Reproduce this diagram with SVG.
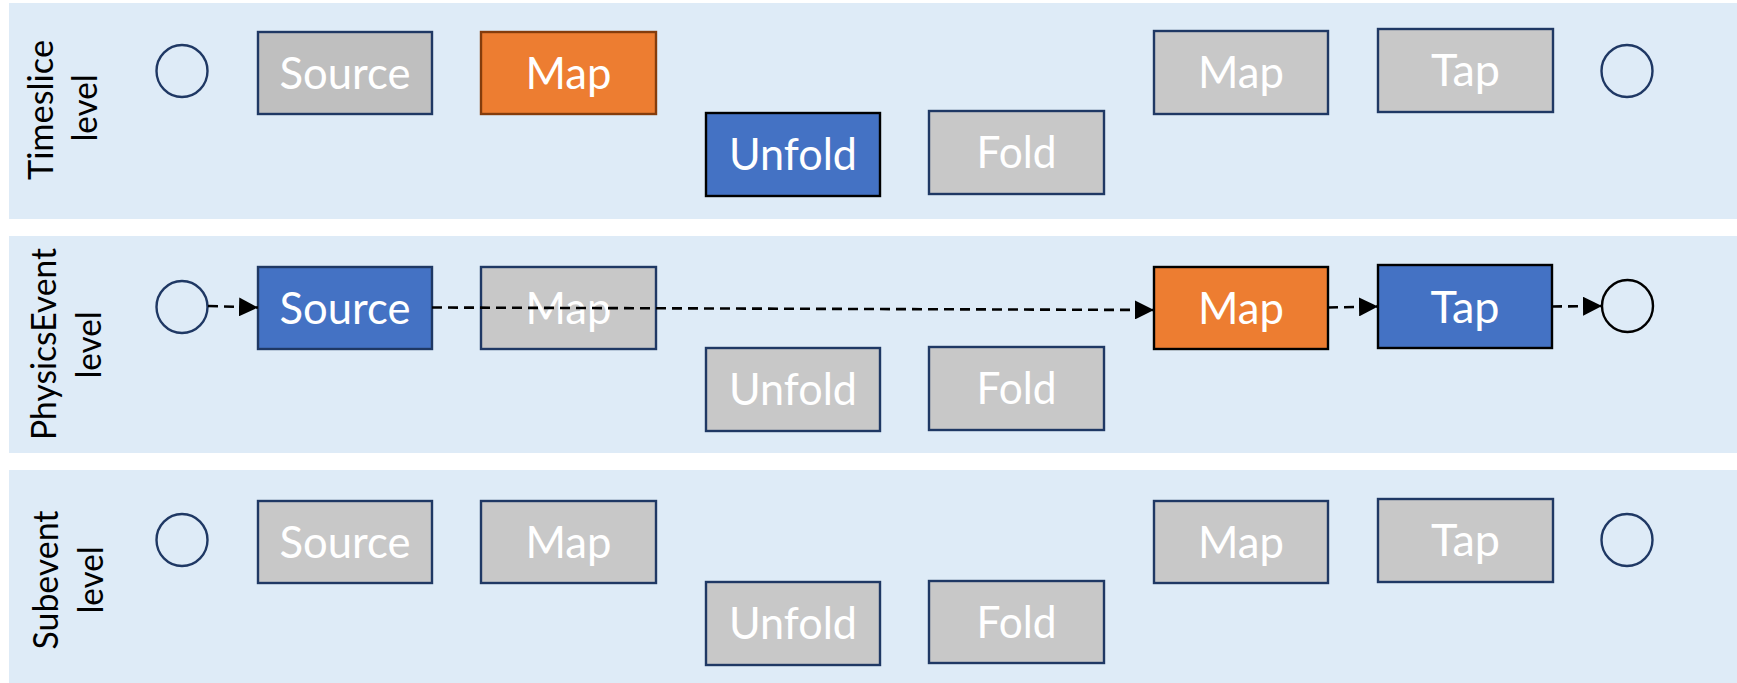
<svg xmlns="http://www.w3.org/2000/svg" width="1737" height="683" viewBox="0 0 1737 683">
  <defs>
    <marker id="arrow" viewBox="0 0 10 10" refX="10" refY="5" markerWidth="19" markerHeight="19" markerUnits="userSpaceOnUse" orient="auto">
      <path d="M0,0 L10,5 L0,10 z" fill="#000"/>
    </marker>
    <style>
      .lane { fill: #DEEBF7; }
      .box { stroke: #1F3864; stroke-width: 2.4; }
      .grey { fill: #C8C8C8; }
      .grey-dark { fill: #BFBFBF; }
      .orange { fill: #ED7D31; }
      .blue { fill: #4472C4; }
      .hl { stroke: #000; }
      .brown { stroke: #843C0C; }
      .port { fill: none; stroke: #1F3864; stroke-width: 2.4; }
      .port-hl { stroke: #000; }
      .lbl { font-family: Lato, "Open Sans", sans-serif; font-size: 44px; fill: #fff; text-anchor: middle; }
      .lane-lbl { font-family: Lato, "Open Sans", sans-serif; font-size: 34px; fill: #000; text-anchor: middle; }
      .flow { fill: none; stroke: #000; stroke-width: 2.6; stroke-dasharray: 10 6; marker-end: url(#arrow); }
    </style>
  </defs>

  <!-- lanes -->
  <g id="lanes">
    <rect class="lane" x="9" y="3" width="1728" height="216"/>
    <rect class="lane" x="9" y="236" width="1728" height="217"/>
    <rect class="lane" x="9" y="470" width="1728" height="213"/>
  </g>

  <!-- lane titles -->
  <g id="lane-titles">
    <text class="lane-lbl" transform="translate(53,110) rotate(-90)" textLength="140" lengthAdjust="spacingAndGlyphs">Timeslice</text>
    <text class="lane-lbl" transform="translate(97,108) rotate(-90)" textLength="67" lengthAdjust="spacingAndGlyphs">level</text>
    <text class="lane-lbl" transform="translate(56,344) rotate(-90)" textLength="192" lengthAdjust="spacingAndGlyphs">PhysicsEvent</text>
    <text class="lane-lbl" transform="translate(101,345) rotate(-90)" textLength="67" lengthAdjust="spacingAndGlyphs">level</text>
    <text class="lane-lbl" transform="translate(58,580) rotate(-90)" textLength="139" lengthAdjust="spacingAndGlyphs">Subevent</text>
    <text class="lane-lbl" transform="translate(103,580) rotate(-90)" textLength="67" lengthAdjust="spacingAndGlyphs">level</text>
  </g>

  <!-- Timeslice level -->
  <g id="ts-in"><ellipse class="port" cx="182" cy="71" rx="25.5" ry="26"/></g>
  <g id="ts-source"><rect class="box grey-dark" x="258" y="32" width="174" height="82"/><text class="lbl" x="345" y="89" textLength="131" lengthAdjust="spacingAndGlyphs">Source</text></g>
  <g id="ts-map1"><rect class="box orange brown" x="481" y="32" width="175" height="82"/><text class="lbl" x="568.5" y="89" textLength="86" lengthAdjust="spacingAndGlyphs">Map</text></g>
  <g id="ts-unfold"><rect class="box blue hl" x="706" y="113" width="174" height="83"/><text class="lbl" x="793" y="170" textLength="128" lengthAdjust="spacingAndGlyphs">Unfold</text></g>
  <g id="ts-fold"><rect class="box grey" x="929" y="111" width="175" height="83"/><text class="lbl" x="1016.5" y="168" textLength="80" lengthAdjust="spacingAndGlyphs">Fold</text></g>
  <g id="ts-map2"><rect class="box grey" x="1154" y="31" width="174" height="83"/><text class="lbl" x="1241" y="88" textLength="86" lengthAdjust="spacingAndGlyphs">Map</text></g>
  <g id="ts-tap"><rect class="box grey" x="1378" y="29" width="175" height="83"/><text class="lbl" x="1465.5" y="86" textLength="69" lengthAdjust="spacingAndGlyphs">Tap</text></g>
  <g id="ts-out"><ellipse class="port" cx="1627" cy="71" rx="25.5" ry="26"/></g>

  <!-- PhysicsEvent level -->
  <g id="pe-in"><ellipse class="port" cx="182" cy="307" rx="25.5" ry="26"/></g>
  <g id="pe-source"><rect class="box blue" x="258" y="267" width="174" height="82"/><text class="lbl" x="345" y="324" textLength="131" lengthAdjust="spacingAndGlyphs">Source</text></g>
  <g id="pe-map1"><rect class="box grey" x="481" y="267" width="175" height="82"/><text class="lbl" x="568.5" y="324" textLength="86" lengthAdjust="spacingAndGlyphs">Map</text></g>
  <g id="pe-unfold"><rect class="box grey" x="706" y="348" width="174" height="83"/><text class="lbl" x="793" y="405" textLength="128" lengthAdjust="spacingAndGlyphs">Unfold</text></g>
  <g id="pe-fold"><rect class="box grey" x="929" y="347" width="175" height="83"/><text class="lbl" x="1016.5" y="404" textLength="80" lengthAdjust="spacingAndGlyphs">Fold</text></g>
  <g id="pe-map2"><rect class="box orange hl" x="1154" y="267" width="174" height="82"/><text class="lbl" x="1241" y="324" textLength="86" lengthAdjust="spacingAndGlyphs">Map</text></g>
  <g id="pe-tap"><rect class="box blue hl" x="1378" y="265" width="174" height="83"/><text class="lbl" x="1465" y="323" textLength="69" lengthAdjust="spacingAndGlyphs">Tap</text></g>
  <g id="pe-out"><ellipse class="port port-hl" cx="1627.5" cy="306" rx="25.5" ry="26"/></g>

  <!-- Subevent level -->
  <g id="se-in"><ellipse class="port" cx="182" cy="540" rx="25.5" ry="26"/></g>
  <g id="se-source"><rect class="box grey" x="258" y="501" width="174" height="82"/><text class="lbl" x="345" y="558" textLength="131" lengthAdjust="spacingAndGlyphs">Source</text></g>
  <g id="se-map1"><rect class="box grey" x="481" y="501" width="175" height="82"/><text class="lbl" x="568.5" y="558" textLength="86" lengthAdjust="spacingAndGlyphs">Map</text></g>
  <g id="se-unfold"><rect class="box grey" x="706" y="582" width="174" height="83"/><text class="lbl" x="793" y="639" textLength="128" lengthAdjust="spacingAndGlyphs">Unfold</text></g>
  <g id="se-fold"><rect class="box grey" x="929" y="581" width="175" height="82"/><text class="lbl" x="1016.5" y="638" textLength="80" lengthAdjust="spacingAndGlyphs">Fold</text></g>
  <g id="se-map2"><rect class="box grey" x="1154" y="501" width="174" height="82"/><text class="lbl" x="1241" y="558" textLength="86" lengthAdjust="spacingAndGlyphs">Map</text></g>
  <g id="se-tap"><rect class="box grey" x="1378" y="499" width="175" height="83"/><text class="lbl" x="1465.5" y="556" textLength="69" lengthAdjust="spacingAndGlyphs">Tap</text></g>
  <g id="se-out"><ellipse class="port" cx="1627" cy="540" rx="25.5" ry="26"/></g>

  <!-- PhysicsEvent data path -->
  <g id="connectors">
    <path class="flow" d="M208,306 L258,307.5"/>
    <path class="flow" d="M432,307.5 L1154,310"/>
    <path class="flow" d="M1328,307.5 L1378,306.5"/>
    <path class="flow" d="M1552,306.5 L1602,306"/>
  </g>
</svg>
